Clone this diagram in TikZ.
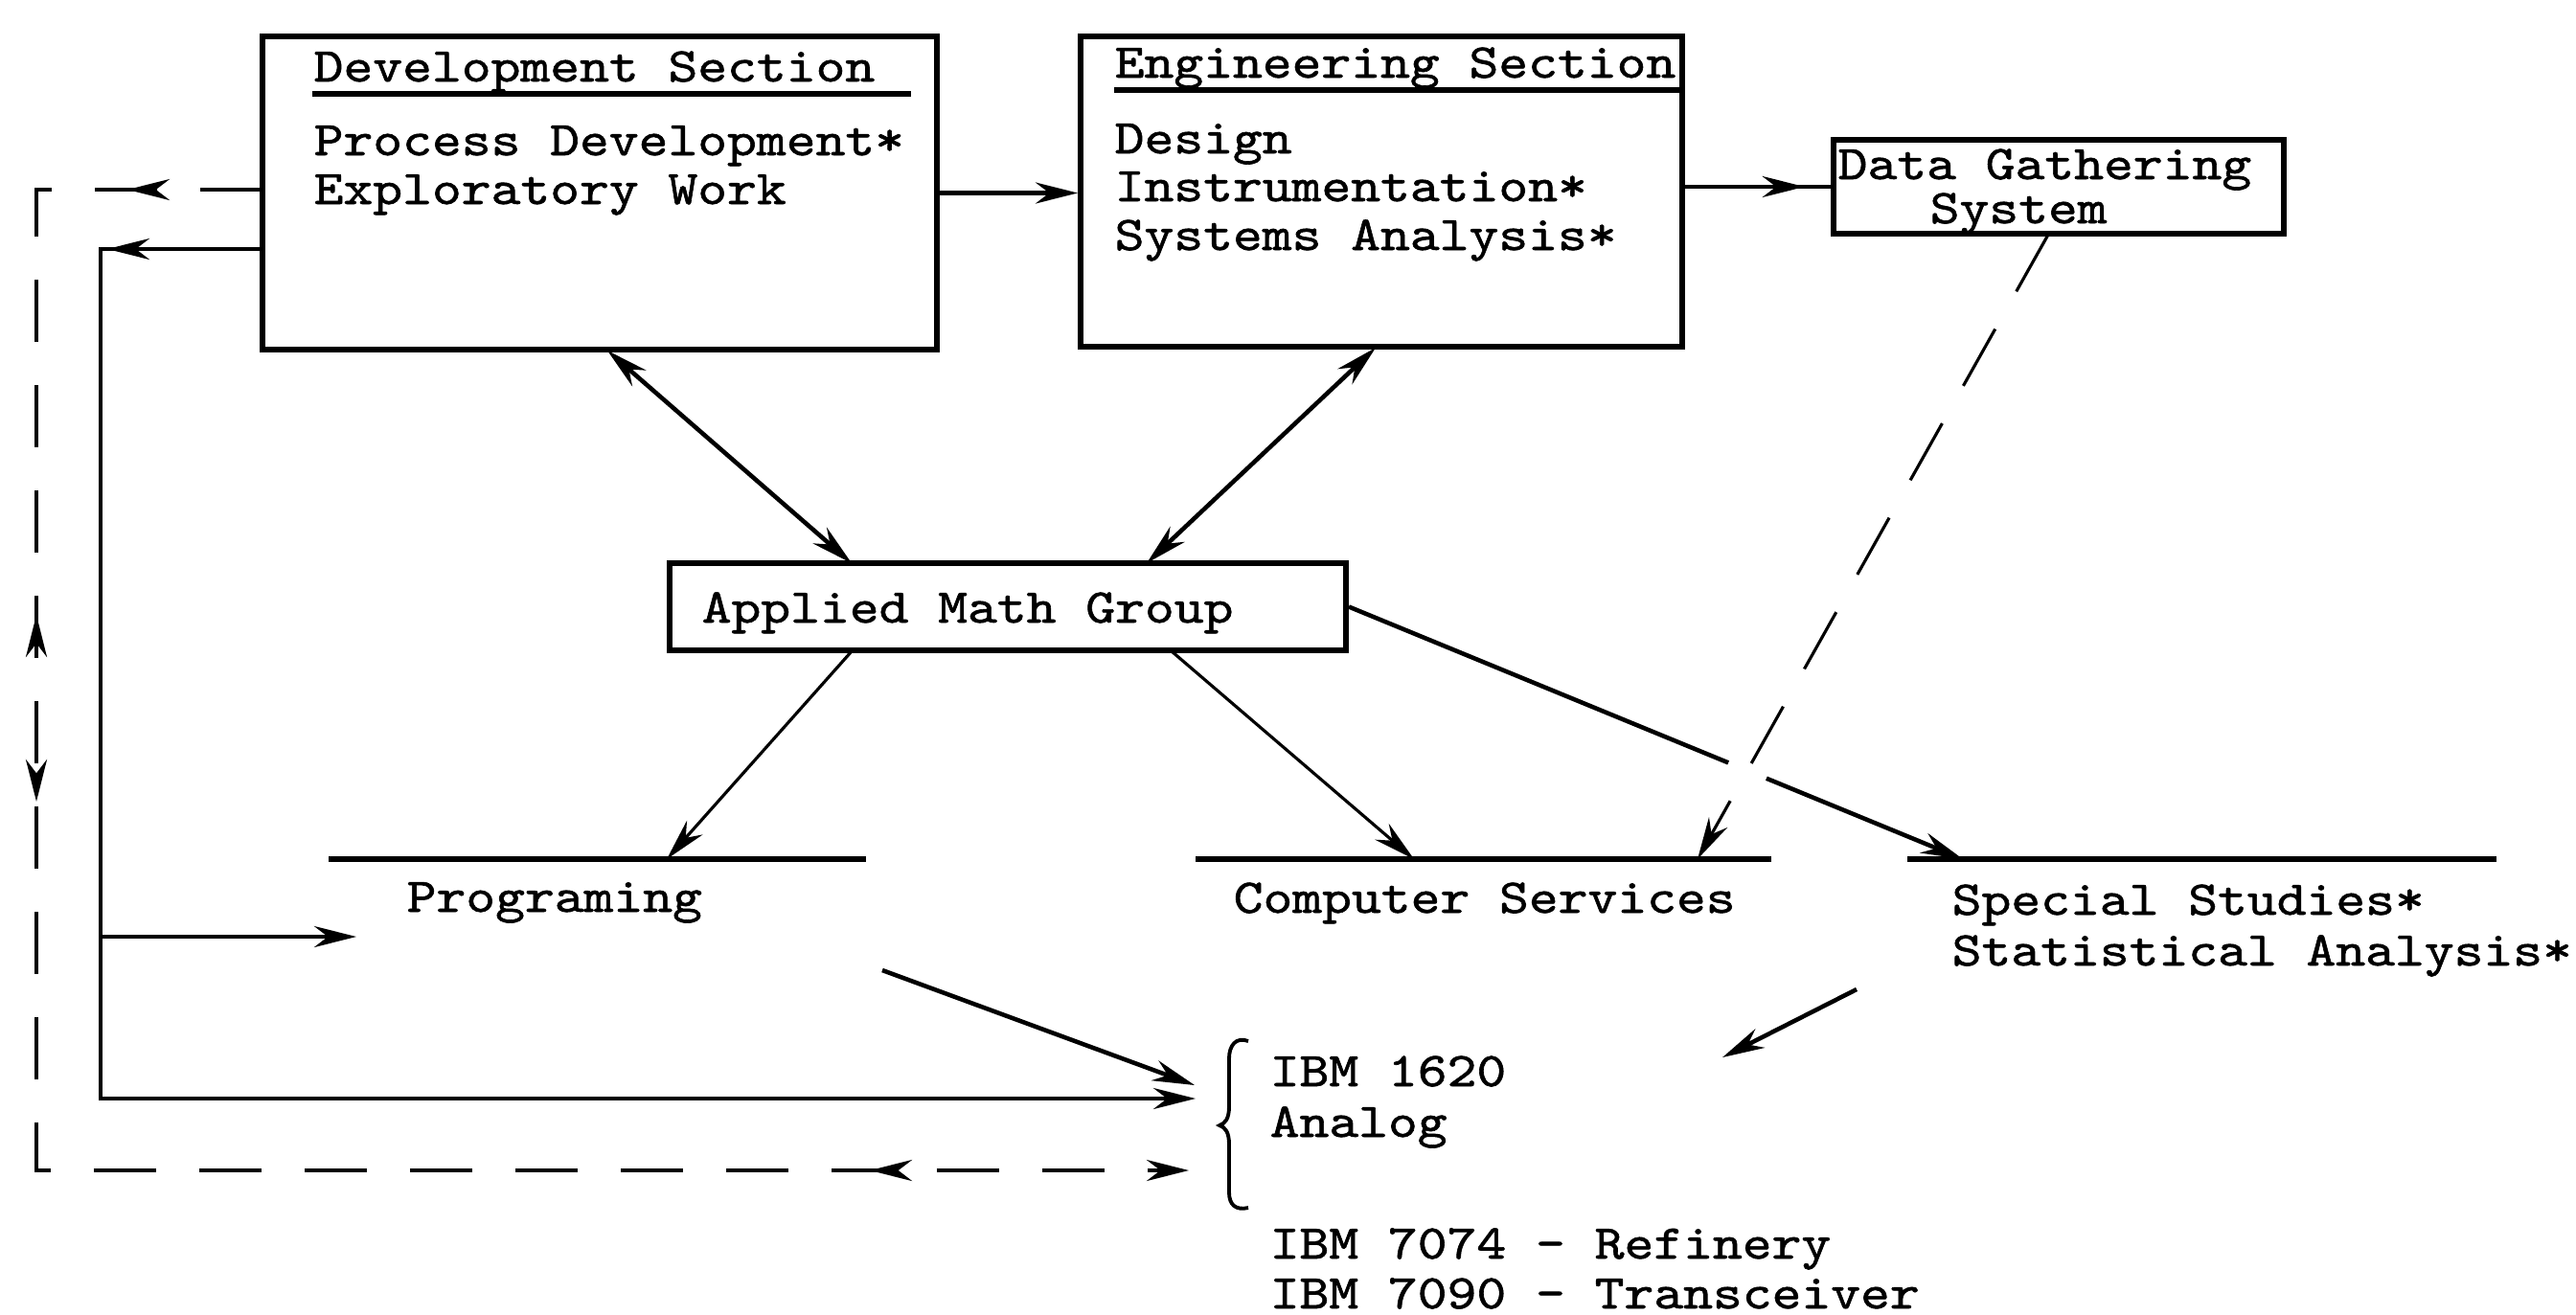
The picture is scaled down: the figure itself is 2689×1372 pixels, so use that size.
\documentclass[tikz,border=0pt]{standalone}
\usepackage{fontspec}
\newfontfamily\tw{lmmono10-regular.otf}[FakeStretch=1.16,FakeBold=1.2]
\usetikzlibrary{arrows.meta,decorations.markings,fit,calc}

\tikzset{
  box/.style={draw, line width=1.7pt, inner sep=0pt},
  txt/.style={font=\tw\fontsize{14.4}{15}\selectfont, inner sep=0pt, anchor=base west},
  conn/.style={line width=1.3pt},
  slim/.style={line width=0.9pt},
  hline/.style={line width=1.5pt},
  stl/.tip={Stealth[length=4.4mm,width=2.2mm]},
  tip/.style={-stl},
  dtip/.style={stl-stl},
}

\begin{document}
\begin{tikzpicture}[x=0.1mm,y=-0.1mm]
\fill[white] (0,0) rectangle (2689,1372);
\useasboundingbox (0,0) rectangle (2689,1372);

% boxes
\node[box, fit={(274,38) (978,365)}] (dev) {};
\node[box, fit={(1128,38) (1756,362)}] (eng) {};
\node[box, fit={(1914,146) (2384,244)}] (dgs) {};
\node[box, fit={(699,588) (1405,679)}] (amg) {};

% texts
\node[txt] (devh) at (327,85) {Development Section};
\node[txt] (dev1) at (327,162) {Process Development*};
\node[txt] (dev2) at (327,213) {Exploratory Work};
\node[txt] (engh) at (1163,81) {Engineering Section};
\node[txt] (eng1) at (1163,160) {Design};
\node[txt] (eng2) at (1163,210) {Instrumentation*};
\node[txt] (eng3) at (1163,261) {Systems Analysis*};
\node[txt] (dgs1) at (1918,187) {Data Gathering};
\node[txt] (dgs2) at (2014,233) {System};
\node[txt] (amgt) at (732,650) {Applied Math Group};
\node[txt] (prog) at (424,952) {Programing};
\node[txt] (cs) at (1287,953) {Computer Services};
\node[txt] (ss1) at (2037,955) {Special Studies*};
\node[txt] (ss2) at (2037,1008) {Statistical Analysis*};
\node[txt] (ibm1) at (1325,1134) {IBM 1620};
\node[txt] (ibm2) at (1325,1187) {Analog};
\node[txt] (ibm3) at (1325,1314) {IBM 7074 - Refinery};
\node[txt] (ibm4) at (1325,1366) {IBM 7090 - Transceiver};

% header underlines
\coordinate (u1) at (326,98); \coordinate (u2) at (951,98);
\coordinate (u3) at (1163,94); \coordinate (u4) at (1756,94);
\draw[hline] (u1) -- (u2);
\draw[hline] (u3) -- (u4);

% group lines
\coordinate (progL) at (343,897); \coordinate (progR) at (904,897);
\coordinate (csL) at (1248,897);  \coordinate (csR) at (1849,897);
\coordinate (ssL) at (1991,897);  \coordinate (ssR) at (2606,897);
\draw[hline] (progL) -- (progR);
\draw[hline] (csL) -- (csR);
\draw[hline] (ssL) -- (ssR);
\coordinate (progT) at (696,897);
\coordinate (csT1) at (1476,897);
\coordinate (csT2) at (1772,897);
\coordinate (ssT) at (2049,897);

% top connectors
\draw[conn,tip] (dev.east) -- (dev.east -| eng.west);
\draw[conn,decoration={markings,mark=at position 0.82 with {\arrow{stl}}},postaction={decorate}]
  (eng.east |- dgs.west) -- (dgs.west);

\coordinate (d1) at (634,366); \coordinate (a1) at (889,588);
\coordinate (e1) at (1436,363); \coordinate (a2) at (1197,588);
\draw[conn,dtip] (d1) -- (a1);
\draw[conn,dtip] (e1) -- (a2);

% from Applied Math Group
\coordinate (a3) at (889,680); \coordinate (a4) at (1223,680);
\draw[slim,tip] (a3) -- (progT);
\draw[slim,tip] (a4) -- (csT1);
\coordinate (x1) at ($(amg.east)!0.618!(ssT)$);
\coordinate (x2) at ($(amg.east)!0.680!(ssT)$);
\draw[conn] (amg.east) -- (x1);
\draw[conn,tip] (x2) -- (ssT);

% dashed from Data Gathering System
\coordinate (g1) at (2138,245);
\draw[slim,dash pattern=on 6.8mm off 4.5mm,tip] (g1) -- (csT2);

% left feedback paths
\coordinate (dl1) at (274,198); \coordinate (dl2) at (274,260);
\coordinate (c1) at (38,1222);  \coordinate (c2) at (105,1147);
\coordinate (i1) at (1248,1147); \coordinate (i2) at (1241,1222);
\draw[conn,dash pattern=on 6.5mm off 4.5mm,tip,
  decoration={markings,
    mark=at position 14.1mm with {\arrow{stl}},
    mark=at position 68mm with {\arrowreversed{stl}},
    mark=at position 87.5mm with {\arrow{stl}},
    mark=at position 213mm with {\arrowreversed{stl}}},
  postaction={decorate}]
  (dl1) -| (c1) -- (i2);
\draw[conn,tip,
  decoration={markings, mark=at position 16.2mm with {\arrow{stl}}},
  postaction={decorate}]
  (dl2) -| (c2) -- (i1);
\coordinate (b1) at (105,978); \coordinate (b2) at (372,978);
\draw[conn,tip] (b1) -- (b2);

% arrows into the IBM group
\coordinate (p1) at (921,1013); \coordinate (i3) at (1247,1133);
\draw[conn,tip] (p1) -- (i3);
\coordinate (s1) at (1938,1033); \coordinate (i4) at (1798,1104);
\draw[conn,tip] (s1) -- (i4);

% brace
\draw[line width=1.1pt] (1303,1087) .. controls (1290,1082) and (1283,1092) .. (1283,1105)
  -- (1283,1155) .. controls (1283,1168) and (1279,1173) .. (1273,1175)
  .. controls (1279,1177) and (1283,1182) .. (1283,1195)
  -- (1283,1245) .. controls (1283,1258) and (1290,1264) .. (1303,1261);
\end{tikzpicture}
\end{document}
